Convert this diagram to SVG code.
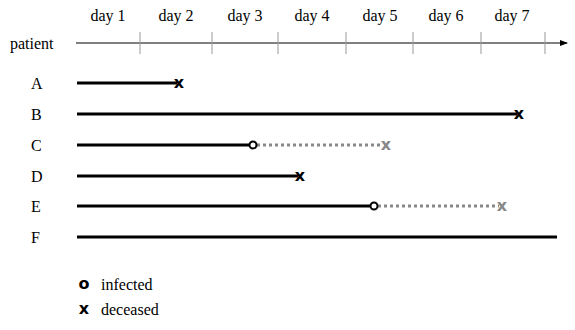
<svg xmlns="http://www.w3.org/2000/svg" width="575" height="330" viewBox="0 0 575 330">
<style>
.life{stroke:#000;stroke-width:3;fill:none}
.dot{stroke:#888;stroke-width:3;stroke-dasharray:3 3;fill:none}
.tick{stroke:#999;stroke-width:1}
.inf{fill:#fff;stroke:#000;stroke-width:2}
</style>
<defs>
<marker id="arr" markerWidth="8" markerHeight="8" refX="7" refY="4" orient="auto" markerUnits="userSpaceOnUse">
<path d="M0,1 L8,4 L0,7 Z" fill="#000"/>
</marker>
</defs>
<g id="axis">
<line x1="76" y1="43" x2="567" y2="43" stroke="#000" stroke-width="1" marker-end="url(#arr)"/>
<g>
<line class="tick" x1="140" y1="32" x2="140" y2="54"/>
<line class="tick" x1="212" y1="32" x2="212" y2="54"/>
<line class="tick" x1="278" y1="32" x2="278" y2="54"/>
<line class="tick" x1="346" y1="32" x2="346" y2="54"/>
<line class="tick" x1="413" y1="32" x2="413" y2="54"/>
<line class="tick" x1="481" y1="32" x2="481" y2="54"/>
<line class="tick" x1="545" y1="32" x2="545" y2="54"/>
</g>
</g>
<g id="connectors">
<line class="life" x1="77" y1="83" x2="177" y2="83"/>
<line class="life" x1="77" y1="114" x2="517" y2="114"/>
<line class="life" x1="77" y1="145" x2="250" y2="145"/>
<line class="dot" x1="257" y1="145" x2="383" y2="145"/>
<line class="life" x1="77" y1="176" x2="298" y2="176"/>
<line class="life" x1="77" y1="206" x2="371" y2="206"/>
<line class="dot" x1="378" y1="206" x2="499" y2="206"/>
<line class="life" x1="77" y1="237" x2="557" y2="237"/>
</g>
<g id="labels" font-family="Liberation Serif, Times New Roman, serif" font-size="16" fill="#000">
<text x="10" y="49">patient</text>
<g text-anchor="middle">
<text x="108" y="21">day 1</text>
<text x="176" y="21">day 2</text>
<text x="245" y="21">day 3</text>
<text x="312" y="21">day 4</text>
<text x="380" y="21">day 5</text>
<text x="446" y="21">day 6</text>
<text x="512" y="21">day 7</text>
</g>
<text x="31" y="89">A</text>
<text x="31" y="120">B</text>
<text x="31" y="151">C</text>
<text x="31" y="182">D</text>
<text x="31" y="212">E</text>
<text x="31" y="243">F</text>
<text x="101" y="290">infected</text>
<text x="101" y="315">deceased</text>
</g>
<g id="markers" font-family="DejaVu Sans, sans-serif" font-weight="bold" font-size="16" text-anchor="middle">
<g id="A"><text x="179" y="88">x</text></g>
<g id="B"><text x="519" y="119">x</text></g>
<g id="C"><circle class="inf" cx="253" cy="145" r="3.5"/><text x="386" y="150" fill="#888">x</text></g>
<g id="D"><text x="300" y="181">x</text></g>
<g id="E"><circle class="inf" cx="374" cy="206" r="3.5"/><text x="502" y="211" fill="#888">x</text></g>
<g id="legend"><text x="84" y="289">o</text><text x="84" y="314">x</text></g>
</g>
</svg>
